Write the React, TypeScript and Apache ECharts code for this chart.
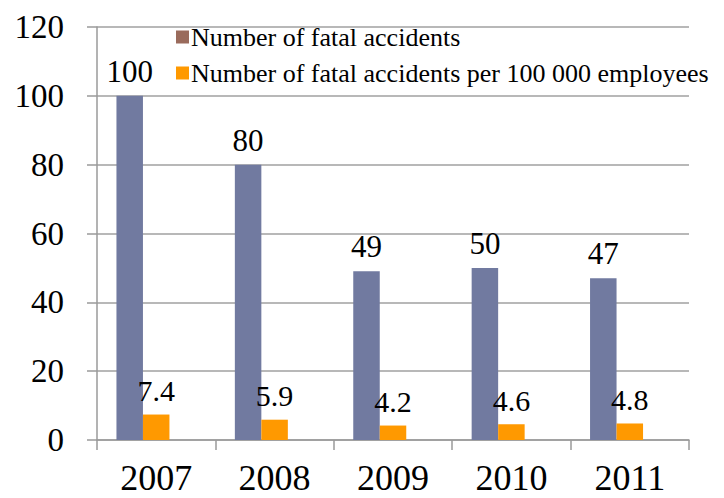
import React, { useEffect, useRef } from "react";
import * as echarts from "echarts";

const years = ["2007", "2008", "2009", "2010", "2011"];
const fatalAccidents = [100, 80, 49, 50, 47];
const fatalPer100k = [7.4, 5.9, 4.2, 4.6, 4.8];
const seriesNames = [
  "Number of fatal accidents",
  "Number of fatal accidents per 100 000 employees",
];

const FONT = "Liberation Serif";

export default function App() {
  const ref = useRef<HTMLDivElement>(null);
  useEffect(() => {
    if (!ref.current) return;
    const chart = echarts.init(ref.current, undefined, { renderer: "svg" });
    chart.setOption({
      animation: false,
      backgroundColor: "#ffffff",
      textStyle: { fontFamily: FONT, color: "#000" },
      grid: { left: 97, right: 35, top: 27, bottom: 58 },
      legend: {
        orient: "vertical",
        left: 171,
        top: 19,
        itemWidth: 13,
        itemHeight: 13,
        itemGap: 10,
        icon: "rect",
        textStyle: { fontFamily: FONT, fontSize: 26, color: "#000", padding: [0, 0, 0, -3] },
        data: [
          { name: seriesNames[0], itemStyle: { color: "#9A6B5C" } },
          { name: seriesNames[1] },
        ],
      },
      xAxis: {
        type: "category",
        data: years,
        axisLine: { lineStyle: { color: "#9a9a9a", width: 1.5 } },
        axisTick: { show: true, length: 10, lineStyle: { color: "#9a9a9a", width: 1.5 } },
        axisLabel: { fontFamily: FONT, fontSize: 36, color: "#000", margin: 20 },
      },
      yAxis: {
        type: "value",
        min: 0,
        max: 120,
        interval: 20,
        axisLine: { show: true, lineStyle: { color: "#9a9a9a", width: 1.5 } },
        axisTick: { show: true, length: 10, lineStyle: { color: "#9a9a9a", width: 1.5 } },
        splitLine: { show: true, lineStyle: { color: "#a0a0a0", width: 1.5 } },
        axisLabel: { fontFamily: FONT, fontSize: 33, color: "#000", margin: 33 },
      },
      series: [
        {
          name: seriesNames[0],
          type: "bar",
          data: fatalAccidents,
          barWidth: 26.5,
          barGap: "0%",
          itemStyle: { color: "#717AA0" },
          label: {
            show: true,
            position: "top",
            distance: 9,
            fontFamily: FONT,
            fontSize: 31,
            color: "#000",
          },
        },
        {
          name: seriesNames[1],
          type: "bar",
          data: fatalPer100k,
          barWidth: 26.5,
          barGap: "0%",
          itemStyle: { color: "#FF9900" },
          label: {
            show: true,
            position: "top",
            distance: 9,
            fontFamily: FONT,
            fontSize: 30,
            color: "#000",
          },
        },
        {
          name: "spacer",
          type: "bar",
          data: [],
          barWidth: 26.5,
          barGap: "0%",
        },
      ],
    });
    return () => chart.dispose();
  }, []);
  return <div ref={ref} style={{ width: 724, height: 498, position: "absolute", left: 0, top: 0 }} />;
}
